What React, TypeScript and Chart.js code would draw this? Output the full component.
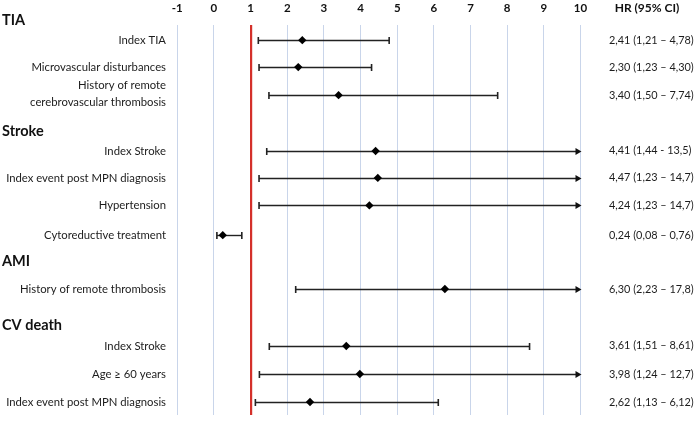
import React, { useEffect, useRef } from 'react';
import { Chart, registerables } from 'chart.js';

Chart.register(...registerables);

// ---- data ----
const groupNames = ['TIA', 'Stroke', 'AMI', 'CV death'];
const rowLabels: (string | string[])[] = [
  'Index TIA',
  'Microvascular disturbances',
  ['History of remote', 'cerebrovascular thrombosis'],
  'Index Stroke',
  'Index event post MPN diagnosis',
  'Hypertension',
  'Cytoreductive treatment',
  'History of remote thrombosis',
  'Index Stroke',
  'Age ≥ 60 years',
  'Index event post MPN diagnosis',
];
const hrValues = [2.41, 2.3, 3.4, 4.41, 4.47, 4.24, 0.24, 6.3, 3.61, 3.98, 2.62];
const ciLow = [1.21, 1.23, 1.5, 1.44, 1.23, 1.23, 0.08, 2.23, 1.51, 1.24, 1.13];
const ciHigh = [4.78, 4.3, 7.74, 13.5, 14.7, 14.7, 0.76, 17.8, 8.61, 12.7, 6.12];
const ciText = [
  '2,41 (1,21 – 4,78)',
  '2,30 (1,23 – 4,30)',
  '3,40 (1,50 – 7,74)',
  '4,41 (1,44 - 13,5)',
  '4,47 (1,23 – 14,7)',
  '4,24 (1,23 – 14,7)',
  '0,24 (0,08 – 0,76)',
  '6,30 (2,23 – 17,8)',
  '3,61 (1,51 – 8,61)',
  '3,98 (1,24 – 12,7)',
  '2,62 (1,13 – 6,12)',
];
const xTickValues = [-1, 0, 1, 2, 3, 4, 5, 6, 7, 8, 9, 10];
const refValue = 1;
const columnTitle = 'HR (95% CI)';

// ---- layout (vertical slots, in row units) ----
const groupSlot = [-0.18, 3.85, 8.58, 10.91];
const rowSlot = [0.55, 1.53, 2.55, 4.58, 5.56, 6.56, 7.64, 9.6, 11.67, 12.69, 13.71];

const FONT = 'Lato, "Open Sans", sans-serif';
const GRID = '#c9d5ea';
const RED = '#d4302a';

const forestPlugin = {
  id: 'forest',
  beforeDatasetsDraw(chart: any) {
    const { ctx, scales } = chart;
    const x = scales.x;
    const y = scales.y;
    const xMax = x.max;
    ctx.save();
    ctx.strokeStyle = '#222';
    ctx.fillStyle = '#111';
    for (let i = 0; i < hrValues.length; i++) {
      const py = Math.round(y.getPixelForValue(rowSlot[i])) + 0.5;
      const x1 = x.getPixelForValue(ciLow[i]);
      const clipped = ciHigh[i] > xMax;
      const x2 = x.getPixelForValue(clipped ? xMax : ciHigh[i]);
      ctx.lineWidth = 1.4;
      ctx.beginPath();
      ctx.moveTo(x1, py);
      ctx.lineTo(clipped ? x2 - 3 : x2, py);
      ctx.stroke();
      ctx.lineWidth = 1.6;
      ctx.beginPath();
      ctx.moveTo(x1, py - 3.5);
      ctx.lineTo(x1, py + 3.5);
      ctx.stroke();
      if (clipped) {
        ctx.beginPath();
        ctx.moveTo(x2 + 1, py);
        ctx.lineTo(x2 - 5, py - 3.5);
        ctx.lineTo(x2 - 5, py + 3.5);
        ctx.closePath();
        ctx.fill();
      } else {
        ctx.beginPath();
        ctx.moveTo(x2, py - 3.5);
        ctx.lineTo(x2, py + 3.5);
        ctx.stroke();
      }
    }
    ctx.restore();
  },
  afterDraw(chart: any) {
    const { ctx, scales, chartArea } = chart;
    const x = scales.x;
    const y = scales.y;
    ctx.save();
    ctx.textBaseline = 'middle';
    // top tick labels
    ctx.fillStyle = '#111';
    ctx.font = `bold 11.5px ${FONT}`;
    ctx.textAlign = 'center';
    for (const t of xTickValues) {
      ctx.fillText(String(t), x.getPixelForValue(t), chartArea.top - 17);
    }
    ctx.font = `bold 12px ${FONT}`;
    ctx.fillText(columnTitle, 647, chartArea.top - 17);
    // group headers
    ctx.textAlign = 'left';
    ctx.font = `bold 14.5px ${FONT}`;
    groupNames.forEach((g, i) => {
      ctx.fillText(g, 2, y.getPixelForValue(groupSlot[i]));
    });
    // row labels
    ctx.font = `11.3px ${FONT}`;
    ctx.fillStyle = '#1c1c1c';
    ctx.textAlign = 'right';
    rowLabels.forEach((lab, i) => {
      const py = y.getPixelForValue(rowSlot[i]);
      if (Array.isArray(lab)) {
        const n = lab.length;
        lab.forEach((l, k) => {
          ctx.fillText(l, 166, py + (k - (n - 1) / 2) * 17 - 1);
        });
      } else {
        ctx.fillText(lab, 166, py);
      }
    });
    // right column
    ctx.textAlign = 'left';
    ctx.font = `10.9px ${FONT}`;
    ciText.forEach((t, i) => {
      ctx.fillText(t, 609, y.getPixelForValue(rowSlot[i]));
    });
    ctx.restore();
  },
};

export default function App() {
  const ref = useRef<HTMLCanvasElement>(null);
  useEffect(() => {
    document.body.style.margin = '0';
    const canvas = ref.current!;
    const chart = new Chart(canvas, {
      type: 'scatter',
      data: {
        datasets: [
          {
            data: hrValues.map((v, i) => ({ x: v, y: rowSlot[i] })),
            pointStyle: 'rectRot',
            pointRadius: 4.2,
            pointHoverRadius: 4.2,
            backgroundColor: '#000',
            borderColor: '#000',
            borderWidth: 0,
          },
        ],
      },
      options: {
        responsive: false,
        animation: false,
        events: [],
        layout: { padding: { left: 177.3, right: 119.5, top: 25, bottom: 11 } },
        plugins: { legend: { display: false }, tooltip: { enabled: false } },
        scales: {
          x: {
            type: 'linear',
            position: 'top',
            min: -1,
            max: 10,
            ticks: { display: false, stepSize: 1 },
            border: { display: false },
            grid: {
              drawTicks: false,
              color: (c: any) => (c.tick && c.tick.value === refValue ? RED : GRID),
              lineWidth: (c: any) => (c.tick && c.tick.value === refValue ? 2.2 : 1),
            },
          },
          y: {
            type: 'linear',
            display: false,
            reverse: true,
            min: 0,
            max: 14.18,
          },
        },
      },
      plugins: [forestPlugin],
    });
    return () => chart.destroy();
  }, []);
  return (
    <div style={{ width: 700, height: 426, background: '#fff' }}>
      <canvas ref={ref} width={700} height={426} style={{ display: 'block' }} />
    </div>
  );
}
